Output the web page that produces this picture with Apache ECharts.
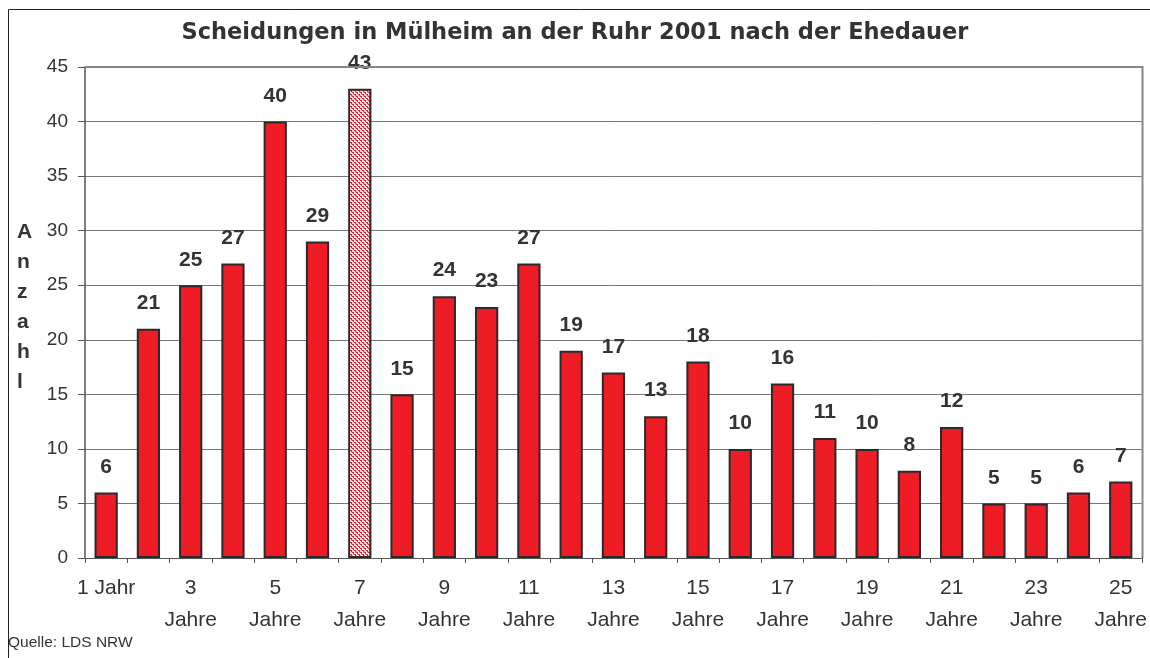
<!DOCTYPE html>
<html>
<head>
<meta charset="utf-8">
<script src="https://cdn.jsdelivr.net/npm/echarts@6/dist/echarts.min.js"></script>
<style>
  html, body { margin: 0; padding: 0; background: #fff; }
  #chart { width: 1150px; height: 658px; }
</style>
</head>
<body>
<div id="chart"></div>
<script>
// data
var categories = ['1 Jahr', '2\nJahre', '3\nJahre', '4\nJahre', '5\nJahre', '6\nJahre', '7\nJahre', '8\nJahre',
  '9\nJahre', '10\nJahre', '11\nJahre', '12\nJahre', '13\nJahre', '14\nJahre', '15\nJahre', '16\nJahre',
  '17\nJahre', '18\nJahre', '19\nJahre', '20\nJahre', '21\nJahre', '22\nJahre', '23\nJahre', '24\nJahre', '25\nJahre'];
var counts = [6, 21, 25, 27, 40, 29, 43, 15, 24, 23, 27, 19, 17, 13, 18, 10, 16, 11, 10, 8, 12, 5, 5, 6, 7];
var highlightIndex = 6;

var font = 'Liberation Sans, Arial, sans-serif';

// dotted fill for the highlighted bar
var pat = document.createElement('canvas');
pat.width = 4; pat.height = 4;
var pctx = pat.getContext('2d');
pctx.fillStyle = '#ffffff';
pctx.fillRect(0, 0, 4, 4);
pctx.fillStyle = '#ee1c25';
pctx.fillRect(0, 0, 2, 1);
pctx.fillRect(1, 1, 1, 1);
pctx.fillRect(2, 2, 2, 1);
pctx.fillRect(3, 3, 1, 1);
pctx.fillStyle = '#f7a0a5';
pctx.fillRect(3, 0, 1, 1);
pctx.fillRect(1, 2, 1, 1);
pctx.fillRect(0, 3, 1, 1);

var barData = counts.map(function (v, i) {
  if (i === highlightIndex) {
    return { value: v, itemStyle: { color: { image: pat, repeat: 'repeat' } } };
  }
  return v;
});

var chart = echarts.init(document.getElementById('chart'), null, { renderer: 'canvas' });

var option = {
  animation: false,
  backgroundColor: '#fff',
  textStyle: { fontFamily: font },
  title: {
    text: 'Scheidungen in Mülheim an der Ruhr 2001 nach der Ehedauer',
    left: 'center',
    top: 17,
    textStyle: { fontFamily: 'DejaVu Sans, sans-serif', fontSize: 22.5, fontWeight: 'bold', color: '#333' }
  },
  grid: { left: 85, right: 7.5, top: 67, bottom: 100, containLabel: false },
  xAxis: {
    type: 'category',
    data: categories,
    axisLine: { lineStyle: { color: '#555', width: 1 } },
    axisTick: { show: true, length: 5, alignWithLabel: false, interval: 0, lineStyle: { color: '#555' } },
    axisLabel: {
      interval: 1,
      margin: 14,
      fontSize: 21,
      lineHeight: 32,
      color: '#333',
      fontFamily: font
    }
  },
  yAxis: {
    type: 'value',
    min: 0,
    max: 45,
    interval: 5,
    axisLine: { show: true, lineStyle: { color: '#555', width: 1.5 } },
    axisTick: { show: true, length: 7, lineStyle: { color: '#555' } },
    axisLabel: { fontSize: 19, color: '#333', margin: 17, fontFamily: font },
    splitLine: { lineStyle: { color: '#777', width: 1 } }
  },
  series: [{
    type: 'bar',
    data: barData,
    barWidth: '55%',
    itemStyle: { color: '#ee1c25', borderColor: '#2a2a2a', borderWidth: 2 },
    label: {
      show: true,
      position: 'top',
      distance: 15,
      fontSize: 21,
      fontWeight: 'bold',
      color: '#333',
      fontFamily: font
    }
  }],
  graphic: [
    {
      type: 'rect',
      shape: { x: 8.5, y: 9.5, width: 1160, height: 700 },
      style: { fill: 'none', stroke: '#222', lineWidth: 1 },
      silent: true
    },
    {
      type: 'polyline',
      shape: { points: [[85, 67], [1142.5, 67], [1142.5, 558]] },
      style: { fill: 'none', stroke: '#8c8480', lineWidth: 2 },
      silent: true,
      z: 10
    },
    {
      type: 'text',
      left: 17,
      top: 217,
      style: {
        text: 'A\nn\nz\na\nh\nl',
        fontFamily: font,
        fontSize: 21,
        fontWeight: 'bold',
        lineHeight: 30,
        fill: '#333',
        align: 'center'
      }
    },
    {
      type: 'text',
      left: 8,
      top: 635,
      style: { text: 'Quelle: LDS NRW', fontFamily: font, fontSize: 15.5, fill: '#333' }
    }
  ]
};

chart.setOption(option);
</script>
</body>
</html>
